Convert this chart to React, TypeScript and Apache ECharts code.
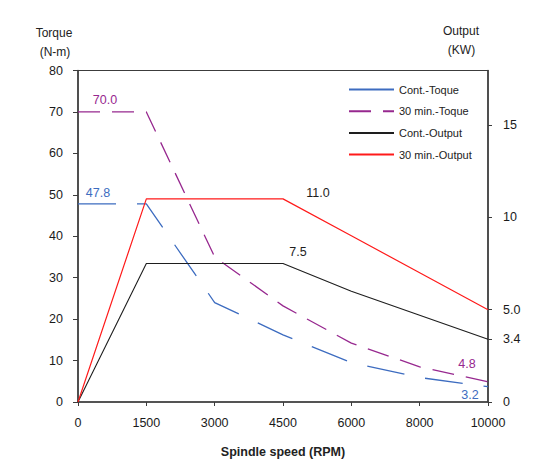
import React, { useEffect, useRef } from "react";
import * as echarts from "echarts";

const speeds = ["0", "1500", "3000", "4500", "6000", "8000", "10000"];
const contTorque = [47.8, 47.8, 24, 16.2, 9.5, 5.9, 3.7];
const minTorque30 = [70, 70, 35, 23.2, 14.2, 8.5, 4.9];
const contOutput = [0, 7.5, 7.5, 7.5, 6.0, 4.7, 3.4];
const minOutput30 = [0, 11, 11, 11, 9.0, 7.0, 5.0];
const rightTicks = [0, 3.4, 5.0, 10, 15];
const seriesNames = ["Cont.-Toque", "30 min.-Toque", "Cont.-Output", "30 min.-Output"];

const FONT = "'Liberation Sans', Arial, sans-serif";
const BLUE = "#3d6cc0";
const PURPLE = "#97288f";
const BLACK = "#1e1e1e";
const RED = "#ff1a1a";
const AXIS = "#3c3c3c";

function mark(idx: number, val: number, text: string, color: string, offset: number[]) {
  return {
    coord: [idx, val],
    value: text,
    symbol: "circle",
    symbolSize: 0,
    label: {
      show: true,
      position: "inside",
      formatter: text,
      color,
      fontSize: 12.5,
      fontFamily: FONT,
      offset,
    },
  };
}

export default function App() {
  const ref = useRef<HTMLDivElement>(null);
  useEffect(() => {
    if (!ref.current) return;
    const chart = echarts.init(ref.current, undefined, { renderer: "svg" });
    const tickLabel = { color: "#1a1a1a", fontSize: 12.5, fontFamily: FONT };
    chart.setOption({
      animation: false,
      textStyle: { fontFamily: FONT },
      grid: {
        left: 78,
        right: 55,
        top: 70.5,
        bottom: 61,
        show: true,
        borderColor: AXIS,
        borderWidth: 1.2,
      },
      legend: {
        orient: "vertical",
        left: 343,
        top: 79,
        itemWidth: 45,
        itemHeight: 12,
        itemGap: 10.7,
        itemStyle: { opacity: 0 },
        textStyle: { color: "#222", fontSize: 11, fontFamily: FONT },
        data: [
          { name: seriesNames[0], lineStyle: { type: "solid" } },
          { name: seriesNames[1] },
          { name: seriesNames[2] },
          { name: seriesNames[3] },
        ],
      },
      xAxis: {
        type: "category",
        data: speeds,
        boundaryGap: false,
        name: "Spindle speed (RPM)",
        nameLocation: "middle",
        nameGap: 43,
        nameTextStyle: { color: "#222", fontSize: 12.5, fontWeight: "bold", fontFamily: FONT },
        axisLine: { lineStyle: { color: AXIS, width: 1.5 } },
        axisTick: { show: true, length: 4, alignWithLabel: true, lineStyle: { color: AXIS } },
        axisLabel: { ...tickLabel, margin: 14 },
        splitLine: { show: false },
      },
      yAxis: [
        {
          type: "value",
          min: 0,
          max: 80,
          interval: 10,
          axisLine: { show: true, lineStyle: { color: AXIS, width: 1.5 } },
          axisTick: { show: true, length: 5, lineStyle: { color: AXIS } },
          axisLabel: { ...tickLabel, margin: 15 },
          splitLine: { show: false },
        },
        {
          type: "value",
          min: 0,
          max: 17.95,
          position: "right",
          axisLine: { show: true, lineStyle: { color: AXIS, width: 1.5 } },
          axisTick: { show: true, length: 4, customValues: rightTicks, lineStyle: { color: AXIS } },
          axisLabel: {
            ...tickLabel,
            margin: 15,
            customValues: rightTicks,
            formatter: (v: number) => (v === 5 ? "5.0" : String(v)),
          },
          splitLine: { show: false },
        },
      ],
      series: [
        {
          name: seriesNames[0],
          type: "line",
          yAxisIndex: 0,
          data: contTorque,
          symbol: "none",
          lineStyle: { color: BLUE, width: 1.3, type: [38, 21] },
          itemStyle: { color: BLUE },
          markPoint: {
            data: [
              mark(0, contTorque[0], "47.8", BLUE, [20, -11]),
              mark(6, contTorque[6], "3.2", BLUE, [-18, 8]),
            ],
          },
        },
        {
          name: seriesNames[1],
          type: "line",
          yAxisIndex: 0,
          data: minTorque30,
          symbol: "none",
          lineStyle: { color: PURPLE, width: 1.3, type: [22, 12] },
          itemStyle: { color: PURPLE },
          markPoint: {
            data: [
              mark(0, minTorque30[0], "70.0", PURPLE, [27, -12]),
              mark(6, minTorque30[6], "4.8", PURPLE, [-21, -18]),
            ],
          },
        },
        {
          name: seriesNames[2],
          type: "line",
          yAxisIndex: 1,
          data: contOutput,
          symbol: "none",
          lineStyle: { color: BLACK, width: 1.1 },
          itemStyle: { color: BLACK },
          markPoint: {
            data: [mark(3, contOutput[3], "7.5", BLACK, [15, -11])],
          },
        },
        {
          name: seriesNames[3],
          type: "line",
          yAxisIndex: 1,
          data: minOutput30,
          symbol: "none",
          lineStyle: { color: RED, width: 1.2 },
          itemStyle: { color: RED },
          markPoint: {
            data: [mark(3, minOutput30[3], "11.0", BLACK, [35, -6])],
          },
        },
      ],
      graphic: [
        { type: "text", x: 54, y: 33, style: { text: "Torque", fill: "#222", font: `12px ${FONT}`, textAlign: "center", textVerticalAlign: "middle" } },
        { type: "text", x: 55, y: 52, style: { text: "(N-m)", fill: "#222", font: `12px ${FONT}`, textAlign: "center", textVerticalAlign: "middle" } },
        { type: "text", x: 461, y: 31, style: { text: "Output", fill: "#222", font: `12px ${FONT}`, textAlign: "center", textVerticalAlign: "middle" } },
        { type: "text", x: 461.5, y: 50, style: { text: "(KW)", fill: "#222", font: `12px ${FONT}`, textAlign: "center", textVerticalAlign: "middle" } },
      ],
    });
    return () => chart.dispose();
  }, []);
  return <div ref={ref} style={{ width: 543, height: 463, position: "absolute", left: 0, top: 0 }} />;
}
